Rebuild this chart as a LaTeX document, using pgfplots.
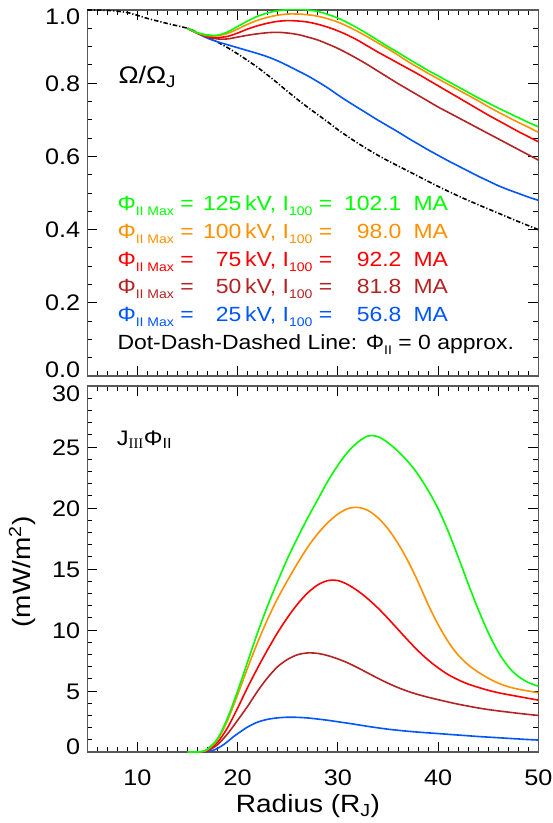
\documentclass[border=0pt]{standalone}
\usepackage{pgfplots}
\pgfplotsset{compat=1.18}
\usepackage{fontspec}
\setmainfont{Liberation Sans}[FakeStretch=1.12]
\newfontfamily\serifsub{Liberation Serif}
\definecolor{cgreen}{RGB}{0,255,0}
\definecolor{corange}{RGB}{255,145,0}
\definecolor{cred}{RGB}{255,0,0}
\definecolor{cbrown}{RGB}{180,35,35}
\definecolor{cblue}{RGB}{0,85,255}
\newcommand\sub[1]{\raisebox{-5pt}{\fontsize{12.5}{13}\selectfont #1}}
\pgfplotsset{
  mypanel/.style={
    anchor=south west, width=451pt, height=366pt, scale only axis,
    xmin=5, xmax=50,
    xtick={10,20,30,40,50}, minor xtick={5,6,...,50},
    tick align=inside, xtick pos=both, ytick pos=both,
    xticklabel pos=lower, yticklabel pos=left,
    major tick length=10pt, minor tick length=5pt,
    every tick/.style={black, line width=0.9pt},
    axis line style={black!65, line width=1.4pt},
    /pgf/number format/assume math mode=true,
    every tick label/.append style={font=\fontsize{22.5}{26}\selectfont},
    yticklabel style={anchor=base east, inner sep=0pt, xshift=-7pt, yshift=-8pt},
    xticklabel style={inner sep=0pt, yshift=-18pt},
    every axis plot/.append style={line width=1.6pt, smooth},
  },
  blk/.style={black, line width=1.6pt, dash pattern=on 4.5pt off 2pt on 1.2pt off 2pt},
}
\newcommand\legrow[5]{%
  \node[anchor=base west, inner sep=0pt, text=#1] at (117.3pt,#2) {Φ\sub{II Max} =};
  \node[anchor=base east, inner sep=0pt, text=#1] at (241.7pt,#2) {#3};
  \node[anchor=base west, inner sep=0pt, text=#1] at (245pt,#2) {kV, I\sub{100} =};
  \node[anchor=base east, inner sep=0pt, text=#1] at (401.7pt,#2) {#4};
  \node[anchor=base west, inner sep=0pt, text=#1] at (413.3pt,#2) {#5};
}
\begin{document}
\begin{tikzpicture}
\path[use as bounding box] (0,0) rectangle (553pt,823pt);
% ---------------- top panel ----------------
\begin{axis}[mypanel, at={(87.3pt,447pt)},
  ymin=0, ymax=1,
  xticklabels={},
  ytick={0,0.2,0.4,0.6,0.8,1.0},
  yticklabels={\raisebox{6pt}{0.0},0.2,0.4,0.6,0.8,\raisebox{-6.5pt}{1.0}},
  minor ytick={0.05,0.1,0.15,0.25,0.3,0.35,0.45,0.5,0.55,0.65,0.7,0.75,0.85,0.9,0.95},
]
\addplot[blk] coordinates {(5,1.0)(7,0.999)(9,0.993)(11,0.977)(13,0.963)(15,0.950)(16,0.938)(17,0.925)(18,0.912)(19,0.897)(20,0.880)(21,0.862)(22,0.843)(23,0.822)(24,0.800)(25,0.777)(26,0.755)(27,0.734)(28,0.714)(29,0.694)(30,0.673)(31,0.654)(32,0.636)(33,0.619)(34,0.603)(35,0.588)(36,0.574)(37,0.560)(38,0.546)(39,0.532)(40,0.518)(42,0.492)(44,0.468)(46,0.445)(48,0.422)(50,0.400)};
\addplot[cblue] coordinates {(15,0.950)(16,0.936)(17,0.923)(18,0.913)(19,0.905)(20,0.897)(21,0.889)(22,0.881)(23,0.872)(24,0.861)(25,0.848)(26,0.834)(27,0.820)(28,0.804)(29,0.787)(30,0.768)(31,0.750)(32,0.733)(33,0.716)(34,0.699)(35,0.683)(36,0.667)(37,0.650)(38,0.634)(39,0.618)(40,0.603)(41,0.588)(42,0.574)(43,0.560)(44,0.546)(45,0.533)(46,0.520)(47,0.509)(48,0.499)(49,0.489)(50,0.480)};
\addplot[cbrown] coordinates {(15,0.950)(16,0.936)(17,0.926)(18,0.921)(19,0.921)(20,0.926)(21,0.931)(22,0.935)(23,0.938)(24,0.939)(25,0.937)(26,0.933)(27,0.926)(28,0.918)(29,0.907)(30,0.895)(31,0.881)(32,0.866)(33,0.850)(34,0.833)(35,0.816)(36,0.799)(37,0.783)(38,0.767)(39,0.751)(40,0.735)(41,0.7205)(42,0.706)(43,0.6915)(44,0.677)(45,0.6625)(46,0.648)(47,0.6335)(48,0.619)(49,0.6045)(50,0.590)};
\addplot[cred] coordinates {(15,0.950)(16,0.937)(17,0.928)(18,0.925)(19,0.928)(20,0.937)(21,0.948)(22,0.957)(23,0.964)(24,0.969)(25,0.971)(26,0.970)(27,0.967)(28,0.961)(29,0.953)(30,0.943)(31,0.931)(32,0.917)(33,0.901)(34,0.885)(35,0.870)(36,0.855)(37,0.840)(38,0.825)(39,0.809)(40,0.793)(41,0.777)(42,0.761)(43,0.745)(44,0.729)(45,0.713)(46,0.698)(47,0.683)(48,0.668)(49,0.654)(50,0.640)};
\addplot[corange] coordinates {(15,0.950)(16,0.937)(17,0.930)(18,0.930)(19,0.936)(20,0.948)(21,0.961)(22,0.972)(23,0.980)(24,0.986)(25,0.989)(26,0.989)(27,0.987)(28,0.983)(29,0.976)(30,0.967)(31,0.955)(32,0.941)(33,0.926)(34,0.910)(35,0.894)(36,0.877)(37,0.859)(38,0.843)(39,0.827)(40,0.812)(41,0.797)(42,0.782)(43,0.767)(44,0.752)(45,0.736)(46,0.721)(47,0.707)(48,0.693)(49,0.680)(50,0.666)};
\addplot[cgreen] coordinates {(15,0.950)(16,0.938)(17,0.932)(18,0.931)(19,0.940)(20,0.955)(21,0.970)(22,0.983)(23,0.992)(24,0.998)(25,1.001)(26,1.002)(27,1.000)(28,0.996)(29,0.988)(30,0.978)(31,0.965)(32,0.950)(33,0.934)(34,0.917)(35,0.900)(36,0.884)(37,0.867)(38,0.851)(39,0.835)(40,0.820)(41,0.805)(42,0.790)(43,0.775)(44,0.760)(45,0.746)(46,0.732)(47,0.719)(48,0.706)(49,0.693)(50,0.681)};
\end{axis}
% ---------------- bottom panel ----------------
\begin{axis}[mypanel, at={(87.3pt,71pt)},
  ymin=0, ymax=30,
  ytick={0,5,10,15,20,25,30},
  yticklabels={\raisebox{5pt}{0},5,10,15,20,25,\raisebox{-7pt}{30}},
  minor ytick={1,2,...,29},
]
\addplot[cblue] coordinates {(15,0)(16,0)(16.5,0)(17,0.03)(17.5,0.12)(18,0.3)(18.5,0.55)(19,0.85)(19.5,1.2)(20,1.5)(21,2.05)(22,2.45)(23,2.68)(24,2.8)(25,2.85)(26,2.84)(27,2.79)(28,2.7)(29,2.6)(30,2.48)(31,2.36)(32,2.23)(33,2.1)(34,1.98)(35,1.87)(36,1.78)(37,1.7)(38,1.63)(39,1.57)(40,1.51)(41,1.45)(42,1.39)(43,1.33)(44,1.27)(45,1.22)(46,1.17)(47,1.12)(48,1.07)(49,1.02)(50,0.98)};
\addplot[cbrown] coordinates {(15,0)(16,0)(16.5,0.02)(17,0.1)(18,0.6)(19,1.5)(20,2.6)(21,3.75)(22,5.0)(23,6.1)(24,7.0)(25,7.6)(26,7.98)(27,8.12)(28,8.08)(29,7.9)(30,7.63)(31,7.3)(32,6.9)(33,6.47)(34,6.04)(35,5.64)(36,5.28)(37,4.97)(38,4.71)(39,4.49)(40,4.29)(41,4.1)(42,3.92)(43,3.76)(44,3.61)(45,3.48)(46,3.37)(47,3.27)(48,3.17)(49,3.08)(50,3.0)};
\addplot[cred] coordinates {(15,0)(16,0)(16.5,0.03)(17,0.15)(18,0.8)(19,2.0)(20,3.6)(21,5.3)(22,6.9)(23,8.4)(24,9.8)(25,11.05)(26,12.15)(27,13.05)(28,13.7)(29,14.05)(30,14.05)(31,13.72)(32,13.2)(33,12.55)(34,11.8)(35,10.95)(36,10.05)(37,9.15)(38,8.3)(39,7.55)(40,6.9)(41,6.35)(42,5.92)(43,5.57)(44,5.3)(45,5.06)(46,4.86)(47,4.7)(48,4.55)(49,4.4)(50,4.25)};
\addplot[corange] coordinates {(15,0)(16,0)(16.5,0.04)(17,0.2)(18,1.0)(19,2.6)(20,4.7)(21,6.9)(22,9.0)(23,10.9)(24,12.6)(25,14.1)(26,15.5)(27,16.8)(28,17.9)(29,18.8)(30,19.5)(31,19.95)(32,20.05)(33,19.8)(34,19.2)(35,18.3)(36,17.1)(37,15.65)(38,13.95)(39,12.1)(40,10.45)(41,9.05)(42,7.95)(43,7.15)(44,6.55)(45,6.05)(46,5.65)(47,5.35)(48,5.15)(49,5.0)(50,4.85)};
\addplot[cgreen] coordinates {(15,0)(16,0)(16.5,0.05)(17,0.25)(18,1.1)(19,2.8)(20,5.0)(21,7.4)(22,9.8)(23,12.0)(24,14.0)(25,15.9)(26,17.6)(27,19.2)(28,20.7)(29,22.2)(30,23.5)(31,24.6)(32,25.4)(33,25.9)(34,25.85)(35,25.35)(36,24.65)(37,23.8)(38,22.75)(39,21.45)(40,19.95)(41,18.1)(42,16.0)(43,13.8)(44,11.7)(45,9.8)(46,8.2)(47,7.0)(48,6.2)(49,5.7)(50,5.4)};
\end{axis}
% ---------------- texts ----------------
\node[anchor=base west, inner sep=0pt, font=\fontsize{24}{28}\selectfont] at (118.3pt,739.7pt) {Ω/Ω\textsubscript{J}};
\node[anchor=base west, inner sep=0pt, font=\fontsize{21}{25}\selectfont] at (116.7pt,377.3pt) {J\textsubscript{\serifsub III}Φ\textsubscript{II}};
\begingroup
\fontsize{20.5}{24}\selectfont
\legrow{cgreen}{612.3pt}{125}{102.1}{MA}
\legrow{corange}{584.7pt}{100}{98.0}{MA}
\legrow{cred}{556.3pt}{75}{92.2}{MA}
\legrow{cbrown}{529.7pt}{50}{81.8}{MA}
\legrow{cblue}{501.3pt}{25}{56.8}{MA}
\node[anchor=base west, inner sep=0pt] at (117.3pt,473pt) {Dot-Dash-Dashed Line: Φ\sub{II} = 0 approx.};
\endgroup
\node[rotate=90, font=\fontsize{25}{29}\selectfont] at (22pt,251pt) {(mW/m\textsuperscript{2})};
\node[anchor=base, inner sep=0pt, font=\fontsize{25}{29}\selectfont] at (308pt,10pt) {Radius (R\textsubscript{J})};
\end{tikzpicture}
\end{document}
